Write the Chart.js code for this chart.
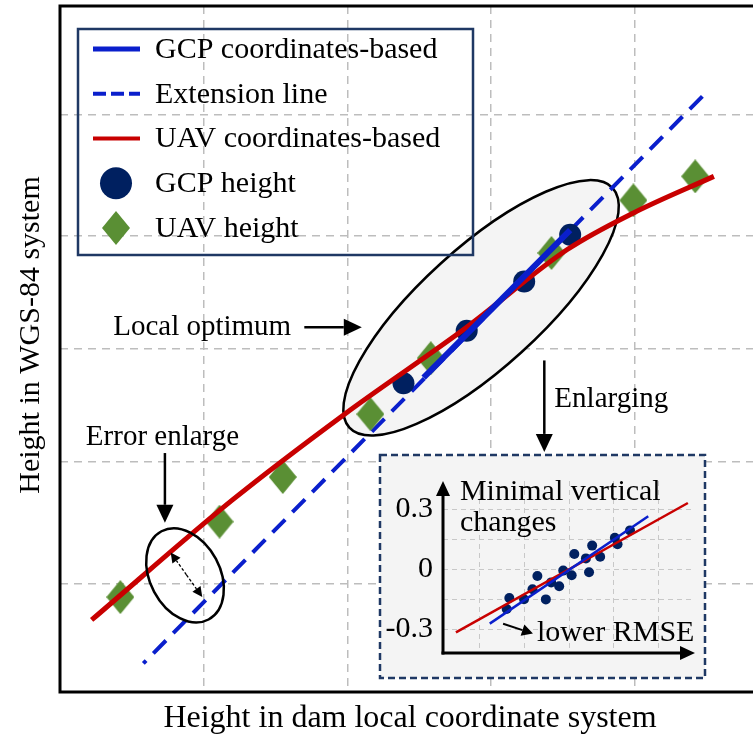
<!DOCTYPE html>
<html>
<head>
<meta charset="utf-8">
<script src="https://cdn.jsdelivr.net/npm/chart.js@4.4.0/dist/chart.umd.min.js"></script>
<style>
  body { margin: 0; background: #fff; }
  #wrap { position: relative; width: 753px; height: 740px; overflow: hidden; }
  #main { position: absolute; left: 0; top: 0; }
  #inset { position: absolute; left: 378px; top: 453px; }
</style>
</head>
<body>
<div id="wrap">
  <canvas id="main" width="760" height="740"></canvas>
  <canvas id="inset" width="330" height="228"></canvas>
</div>
<script>
// --- main plot values (axis units) ---
const gridX = [1, 2, 3, 4];
const gridY = [0.95, 2.01, 3.0, 3.99, 5.05];

const gcpLineX = [2.53, 3.55];
const gcpLineY = [2.75, 4.04];
const extLineX = [4.47, 0.58];
const extLineY = [5.21, 0.25];
const uavLineX = [0.22, 1.20, 1.98, 2.83, 3.53, 3.99, 4.55];
const uavLineY = [0.63, 1.68, 2.43, 3.19, 3.87, 4.19, 4.51];
const gcpX = [2.39, 2.83, 3.23, 3.55];
const gcpY = [2.70, 3.16, 3.59, 4.00];
const uavX = [0.42, 1.11, 1.55, 2.16, 2.58, 3.42, 3.99, 4.42];
const uavY = [0.83, 1.49, 1.88, 2.43, 2.92, 3.84, 4.30, 4.51];

// --- enlarged view values ---
const insetGridX = [0, 1, 2, 3, 4];
const insetTicks = [-0.3, -0.15, 0, 0.15, 0.3];
const insetTickLabels = ['-0.3', '', '0', '', '0.3'];
const insetDotX = [0.60, 0.66, 0.99, 1.18, 1.29, 1.48, 1.60, 1.78, 1.87, 2.06, 2.12, 2.38, 2.45, 2.52, 2.70, 3.03, 3.09, 3.37];
const insetDotY = [-0.199, -0.144, -0.150, -0.100, -0.034, -0.151, -0.066, -0.085, -0.007, -0.030, 0.076, 0.054, -0.015, 0.118, 0.062, 0.157, 0.125, 0.194];
const insetRedX = [-0.54, 4.67];
const insetRedY = [-0.316, 0.331];
const insetBlueX = [0.22, 3.78];
const insetBlueY = [-0.272, 0.265];

const BLUE = '#0a1fcc';
const RED = '#c80000';
const NAVY = '#002060';
const GREEN = '#5a8f34';
const FRAME = '#1f3864';
const SERIF = "'Liberation Serif', 'Times New Roman', serif";

const pts = (xs, ys) => xs.map((x, i) => ({ x: x, y: ys[i] }));

function diamond(w, h, color) {
  const c = document.createElement('canvas');
  c.width = w; c.height = h;
  const g = c.getContext('2d');
  g.fillStyle = color;
  g.beginPath();
  g.moveTo(w / 2, 0); g.lineTo(w, h / 2); g.lineTo(w / 2, h); g.lineTo(0, h / 2);
  g.closePath(); g.fill();
  return c;
}

// line with a filled head at (x2, y2)
function arrow(ctx, x1, y1, x2, y2, head, half) {
  const a = Math.atan2(y2 - y1, x2 - x1);
  const bx = x2 - head * Math.cos(a), by = y2 - head * Math.sin(a);
  ctx.beginPath(); ctx.moveTo(x1, y1); ctx.lineTo(bx, by); ctx.stroke();
  ctx.save();
  ctx.setLineDash([]);
  ctx.beginPath();
  ctx.moveTo(x2, y2);
  ctx.lineTo(bx + half * Math.sin(a), by - half * Math.cos(a));
  ctx.lineTo(bx - half * Math.sin(a), by + half * Math.cos(a));
  ctx.closePath(); ctx.fill();
  ctx.restore();
}

const uavMarker = diamond(28, 34, GREEN);

// annotations, anchored in axis units
const notes = {
  bigEllipse: { x: 2.93, y: 3.36 },
  smallEllipse: { x: 0.87, y: 1.02 },
  gap: [{ x: 0.77, y: 1.22 }, { x: 0.99, y: 0.83 }],
  optimumText: { x: 0.37, y: 3.19 },
  optimumArrow: [{ x: 1.70, y: 3.19 }, { x: 2.10, y: 3.19 }],
  enlargeText: { x: 3.44, y: 2.56 },
  enlargeArrow: [{ x: 3.37, y: 2.90 }, { x: 3.37, y: 2.10 }],
  errorText: { x: 0.18, y: 2.23 },
  errorArrow: [{ x: 0.73, y: 2.09 }, { x: 0.73, y: 1.48 }]
};

const mainDecor = {
  id: 'mainDecor',
  beforeDatasetsDraw(chart) {
    const { ctx, scales: { x, y } } = chart;
    ctx.save();
    // local optimum region
    ctx.beginPath();
    ctx.ellipse(x.getPixelForValue(notes.bigEllipse.x), y.getPixelForValue(notes.bigEllipse.y), 178, 60, -0.738, 0, Math.PI * 2);
    ctx.fillStyle = '#f4f4f4';
    ctx.fill();
    ctx.lineWidth = 2.5;
    ctx.strokeStyle = '#000';
    ctx.stroke();
    ctx.restore();
  },
  afterDatasetsDraw(chart) {
    const { ctx, chartArea: ca, scales: { x, y } } = chart;
    const px = p => [x.getPixelForValue(p.x), y.getPixelForValue(p.y)];
    ctx.save();

    // error region
    ctx.beginPath();
    const se = px(notes.smallEllipse);
    ctx.ellipse(se[0], se[1], 35, 50, -0.49, 0, Math.PI * 2);
    ctx.lineWidth = 2.5;
    ctx.strokeStyle = '#000';
    ctx.stroke();

    // dotted double arrow inside it
    const g0 = px(notes.gap[0]), g1 = px(notes.gap[1]);
    ctx.fillStyle = '#000';
    ctx.lineWidth = 1.3;
    ctx.setLineDash([3, 2]);
    const mx = (g0[0] + g1[0]) / 2, my = (g0[1] + g1[1]) / 2;
    arrow(ctx, mx, my, g0[0], g0[1], 10, 5);
    arrow(ctx, mx, my, g1[0], g1[1], 10, 5);
    ctx.setLineDash([]);

    // callout arrows
    ctx.lineWidth = 2.5;
    [notes.optimumArrow, notes.enlargeArrow, notes.errorArrow].forEach(a => {
      const p0 = px(a[0]), p1 = px(a[1]);
      arrow(ctx, p0[0], p0[1], p1[0], p1[1], 18, 8.5);
    });

    ctx.font = '29px ' + SERIF;
    ctx.textBaseline = 'middle';
    ctx.textAlign = 'left';
    let t = px(notes.optimumText); ctx.fillText('Local optimum', t[0], t[1]);
    t = px(notes.enlargeText); ctx.fillText('Enlarging', t[0], t[1]);
    t = px(notes.errorText); ctx.fillText('Error enlarge', t[0], t[1]);

    // frame
    ctx.lineWidth = 3;
    ctx.strokeStyle = '#000';
    ctx.strokeRect(ca.left, ca.top, ca.right - ca.left, ca.bottom - ca.top);

    // legend
    const lx = ca.left + 18, ly = ca.top + 23;
    ctx.lineWidth = 2.5;
    ctx.strokeStyle = FRAME;
    ctx.strokeRect(lx, ly, 395, 226);
    const rowY = i => ly + 20 + i * 44.75;
    const sx0 = lx + 15, sx1 = lx + 62, sxc = lx + 38;
    const items = [
      { label: 'GCP coordinates-based', draw: yy => { ctx.lineWidth = 5; ctx.strokeStyle = BLUE; ctx.setLineDash([]); line(yy); } },
      { label: 'Extension line', draw: yy => { ctx.lineWidth = 4; ctx.strokeStyle = BLUE; ctx.setLineDash([13, 5]); line(yy); ctx.setLineDash([]); } },
      { label: 'UAV coordinates-based', draw: yy => { ctx.lineWidth = 4; ctx.strokeStyle = RED; line(yy); } },
      { label: 'GCP height', draw: yy => { ctx.fillStyle = NAVY; ctx.beginPath(); ctx.arc(sxc, yy, 16, 0, Math.PI * 2); ctx.fill(); } },
      { label: 'UAV height', draw: yy => { ctx.drawImage(uavMarker, sxc - 14, yy - 17); } }
    ];
    function line(yy) { ctx.beginPath(); ctx.moveTo(sx0, yy); ctx.lineTo(sx1, yy); ctx.stroke(); }
    ctx.font = '30px ' + SERIF;
    items.forEach((it, i) => {
      it.draw(rowY(i));
      ctx.fillStyle = '#000';
      ctx.fillText(it.label, lx + 77, rowY(i) + 1);
    });
    ctx.restore();
  },
  afterDraw(chart) {
    const { ctx } = chart;
    ctx.save();
    ctx.fillStyle = '#000';
    ctx.textAlign = 'center';
    ctx.textBaseline = 'middle';
    ctx.font = '32px ' + SERIF;
    ctx.fillText('Height in dam local coordinate system', 410, 719);
    ctx.translate(31, 335);
    ctx.rotate(-Math.PI / 2);
    ctx.font = '30px ' + SERIF;
    ctx.fillText('Height in WGS-84 system', 0, 0);
    ctx.restore();
  }
};

new Chart(document.getElementById('main'), {
  type: 'scatter',
  data: {
    datasets: [
      { label: 'GCP coordinates-based', data: pts(gcpLineX, gcpLineY), showLine: true, borderColor: BLUE, borderWidth: 6, pointRadius: 0, order: 0 },
      { label: 'UAV coordinates-based', data: pts(uavLineX, uavLineY), showLine: true, borderColor: RED, borderWidth: 5, pointRadius: 0, cubicInterpolationMode: 'monotone', order: 1 },
      { label: 'GCP height', data: pts(gcpX, gcpY), backgroundColor: NAVY, borderWidth: 0, pointRadius: 11, order: 2 },
      { label: 'UAV height', data: pts(uavX, uavY), pointStyle: uavMarker, order: 3 },
      { label: 'Extension line', data: pts(extLineX, extLineY), showLine: true, borderColor: BLUE, borderWidth: 4, borderDash: [18, 10.3], pointRadius: 0, order: 4 }
    ]
  },
  options: {
    responsive: false,
    animation: false,
    events: [],
    layout: { autoPadding: false, padding: { left: 60, top: 6, right: 3, bottom: 48 } },
    plugins: { legend: { display: false }, tooltip: { enabled: false } },
    scales: {
      x: {
        type: 'linear', min: 0, max: 4.85,
        ticks: { display: false },
        grid: { color: '#bdbdbd', lineWidth: 1.5, drawTicks: false },
        border: { display: false, dash: [8, 6] },
        afterBuildTicks: s => { s.ticks = gridX.map(v => ({ value: v })); },
        afterFit: s => { s.height = 0; }
      },
      y: {
        type: 'linear', min: 0, max: 6,
        ticks: { display: false },
        grid: { color: '#bdbdbd', lineWidth: 1.5, drawTicks: false },
        border: { display: false, dash: [8, 6] },
        afterBuildTicks: s => { s.ticks = gridY.map(v => ({ value: v })); },
        afterFit: s => { s.width = 0; }
      }
    }
  },
  plugins: [mainDecor]
});

// --- enlarged view ---
const insetDecor = {
  id: 'insetDecor',
  beforeDraw(chart) {
    const { ctx } = chart;
    ctx.save();
    ctx.fillStyle = '#f4f4f4';
    ctx.fillRect(2, 2, 325, 223);
    ctx.setLineDash([7, 4]);
    ctx.lineWidth = 2.5;
    ctx.strokeStyle = FRAME;
    ctx.strokeRect(2, 2, 325, 223);
    ctx.restore();
  },
  afterDatasetsDraw(chart) {
    const { ctx, chartArea: ca, scales: { x, y } } = chart;
    ctx.save();
    ctx.fillStyle = '#000';
    ctx.strokeStyle = '#000';
    ctx.lineWidth = 3;
    arrow(ctx, ca.left, ca.bottom + 1.5, ca.left, ca.top, 15, 7);
    arrow(ctx, ca.left - 1.5, ca.bottom, ca.right, ca.bottom, 15, 7);

    ctx.font = '30px ' + SERIF;
    ctx.textBaseline = 'middle';
    ctx.fillText('Minimal vertical', x.getPixelForValue(-0.45), y.getPixelForValue(0.384));
    ctx.fillText('changes', x.getPixelForValue(-0.45), y.getPixelForValue(0.229));
    ctx.fillText('lower RMSE', x.getPixelForValue(1.28), y.getPixelForValue(-0.322));
    ctx.lineWidth = 2;
    arrow(ctx, x.getPixelForValue(0.52), y.getPixelForValue(-0.273), x.getPixelForValue(1.19), y.getPixelForValue(-0.322), 11, 6);
    ctx.restore();
  }
};

new Chart(document.getElementById('inset'), {
  type: 'scatter',
  data: {
    datasets: [
      { data: pts(insetBlueX, insetBlueY), showLine: true, borderColor: BLUE, borderWidth: 2.5, pointRadius: 0, order: 0 },
      { data: pts(insetRedX, insetRedY), showLine: true, borderColor: RED, borderWidth: 2.5, pointRadius: 0, order: 1 },
      { data: pts(insetDotX, insetDotY), backgroundColor: NAVY, borderWidth: 0, pointRadius: 5, order: 2 }
    ]
  },
  options: {
    responsive: false,
    animation: false,
    events: [],
    layout: { autoPadding: false, padding: { left: 0, top: 17, right: 13, bottom: 16 } },
    plugins: { legend: { display: false }, tooltip: { enabled: false } },
    scales: {
      x: {
        type: 'linear', min: -0.83, max: 4.83,
        ticks: { display: false },
        grid: { color: '#c8c8c8', lineWidth: 1, drawTicks: false },
        border: { display: false, dash: [5, 4] },
        afterBuildTicks: s => { s.ticks = insetGridX.map(v => ({ value: v })); },
        afterFit: s => { s.height = 0; }
      },
      y: {
        type: 'linear', min: -0.419, max: 0.441,
        ticks: {
          color: '#000', padding: 10, autoSkip: false,
          font: { family: SERIF, size: 30 },
          callback: (v, i) => insetTickLabels[i]
        },
        grid: { color: '#c8c8c8', lineWidth: 1, drawTicks: false },
        border: { display: false, dash: [5, 4] },
        afterBuildTicks: s => { s.ticks = insetTicks.map(v => ({ value: v })); },
        afterFit: s => { s.width = 65; }
      }
    }
  },
  plugins: [insetDecor]
});
</script>
</body>
</html>
